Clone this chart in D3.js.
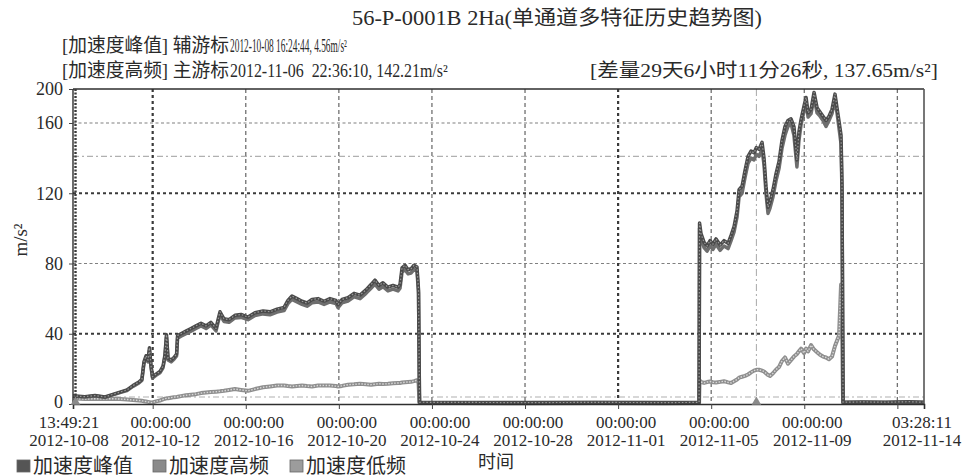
<!DOCTYPE html>
<html>
<head>
<meta charset="utf-8">
<script src="https://cdn.jsdelivr.net/npm/d3@7"></script>
<style>
  html, body { margin: 0; padding: 0; background: #ffffff; }
  svg { display: block; }
  text { font-family: "Liberation Serif", "Noto Sans CJK SC", serif; fill: #2a2a2a; white-space: pre; }
</style>
</head>
<body>
<svg id="chart" width="967" height="476"></svg>
<script>
// ---- sample times (UTC strings) shared by the three series ----
const times = [
  "2012-10-08 13:49:21","2012-10-08 16:24:44","2012-10-09 02:00","2012-10-09 12:30","2012-10-09 22:50",
  "2012-10-10 07:00","2012-10-10 14:20","2012-10-10 21:30","2012-10-11 03:40","2012-10-11 09:50",
  "2012-10-11 12:50","2012-10-11 15:00","2012-10-11 17:10","2012-10-11 19:10","2012-10-11 20:40",
  "2012-10-11 22:15","2012-10-11 23:50","2012-10-12 03:25","2012-10-12 07:30","2012-10-12 10:40",
  "2012-10-12 12:40","2012-10-12 14:15","2012-10-12 15:50","2012-10-12 19:00","2012-10-12 22:00",
  "2012-10-13 00:40","2012-10-13 01:40","2012-10-13 05:10","2012-10-13 10:20","2012-10-13 15:30",
  "2012-10-13 20:40","2012-10-14 01:50","2012-10-14 07:00","2012-10-14 12:00","2012-10-14 17:20",
  "2012-10-14 19:25","2012-10-14 21:25","2012-10-15 01:30","2012-10-15 06:45","2012-10-15 12:50",
  "2012-10-15 19:05","2012-10-16 02:20","2012-10-16 09:30","2012-10-16 17:50","2012-10-17 01:00",
  "2012-10-17 08:15","2012-10-17 15:30","2012-10-17 19:30","2012-10-17 23:40","2012-10-18 04:50",
  "2012-10-18 10:00","2012-10-18 15:10","2012-10-18 20:20","2012-10-19 02:30","2012-10-19 08:45",
  "2012-10-19 14:50","2012-10-19 21:00","2012-10-19 23:10","2012-10-20 03:15","2012-10-20 09:25",
  "2012-10-20 15:40","2012-10-20 21:50","2012-10-21 04:00","2012-10-21 09:10","2012-10-21 13:15",
  "2012-10-21 17:25","2012-10-21 21:30","2012-10-22 02:40","2012-10-22 07:50","2012-10-22 13:00",
  "2012-10-22 15:05","2012-10-22 17:10","2012-10-22 20:15","2012-10-22 23:20","2012-10-23 02:25",
  "2012-10-23 05:30","2012-10-23 08:35","2012-10-23 10:10","2012-10-23 11:10","2012-10-25 00:00",
  "2012-10-28 00:00","2012-10-31 00:00","2012-11-03 00:00","2012-11-04 11:30","2012-11-04 12:00",
  "2012-11-04 13:30","2012-11-04 16:40","2012-11-04 19:45","2012-11-04 22:50","2012-11-05 01:50",
  "2012-11-05 05:00","2012-11-05 09:10","2012-11-05 13:15","2012-11-05 17:25","2012-11-05 20:30",
  "2012-11-05 23:35","2012-11-06 02:40","2012-11-06 04:45","2012-11-06 07:50","2012-11-06 10:55",
  "2012-11-06 14:00","2012-11-06 17:05","2012-11-06 20:10","2012-11-06 22:36:10","2012-11-07 01:20",
  "2012-11-07 04:25","2012-11-07 06:30","2012-11-07 08:30","2012-11-07 10:35","2012-11-07 12:40",
  "2012-11-07 15:45","2012-11-07 18:50","2012-11-07 21:55","2012-11-08 01:00","2012-11-08 04:05",
  "2012-11-08 07:10","2012-11-08 10:15","2012-11-08 13:20","2012-11-08 16:25","2012-11-08 18:30",
  "2012-11-08 20:40","2012-11-08 23:45","2012-11-09 01:50","2012-11-09 03:55","2012-11-09 07:00",
  "2012-11-09 10:05","2012-11-09 13:10","2012-11-09 16:15","2012-11-09 19:20","2012-11-09 22:25",
  "2012-11-10 01:30","2012-11-10 04:35","2012-11-10 07:40","2012-11-10 09:45","2012-11-10 11:50",
  "2012-11-10 13:55","2012-11-10 14:55","2012-11-10 16:00","2012-11-11 12:00","2012-11-12 12:00",
  "2012-11-13 12:00","2012-11-14 03:28:11"
];

// 加速度峰值 (m/s²)
const peak = [
  4.6,4.56,4.2,4.8,4.0, 5.5,6.8,8.0,10.5,12.5, 14.0,24.0,27.5,25.0,32.0, 22.0,15.5,17.0,18.5,21.5,
  28.0,39.5,26.0,25.0,26.5, 28.5,39.0,40.0,41.5,43.0, 44.5,46.0,44.5,46.5,43.0, 48.0,52.5,48.5,48.0,50.5,
  51.0,49.5,52.0,53.0,52.5, 54.0,55.0,59.0,61.5,60.0, 58.5,57.5,59.5,60.0,58.5, 60.0,59.0,56.5,59.5,60.5,
  63.0,62.0,65.0,68.0,70.5, 67.5,69.0,66.5,67.5,66.5, 68.0,77.5,79.0,76.5,77.0, 79.0,78.0,65.0,1.0,0.9,
  0.8,0.9,0.8,0.9,103, 97,92,90,93,91, 94,90.5,93,91.5,96, 101,110,122,124,133,
  141,144,143,146,145, 149,140,124,112,115, 122,131,138,150,158, 163,165,158,139,155,
  164,180,190,172,176, 196,178,173,168,163, 168,176,194,178,162, 153,124,1.0,1.2,1.0,
  1.3,1.0
];

// 加速度高频 (m/s²)
const high = [
  4.4,4.3,4.0,4.5,3.8, 5.2,6.5,7.6,10.0,12.0, 13.4,23.0,26.5,24.0,30.5, 21.0,14.8,16.3,17.8,20.6,
  27.0,38.0,25.0,24.0,25.5, 27.4,37.5,38.6,40.0,41.5, 43.0,44.4,43.0,45.0,41.6, 46.5,50.8,47.0,46.5,49.0,
  49.3,48.0,50.4,51.3,50.8, 52.3,53.2,57.2,59.6,58.1, 56.7,55.7,57.6,58.1,56.7, 58.1,57.2,54.8,57.6,58.6,
  61.0,60.0,63.0,65.9,68.3, 65.4,66.8,64.4,65.4,64.4, 65.9,75.1,76.5,74.1,74.6, 76.5,75.6,63.0,0.8,0.7,
  0.7,0.8,0.7,0.7,100, 94,89,87,90,88, 91,87.5,90,88.5,93, 98,106.5,118,120,129,
  137,140,139,142.21,141, 145,136,120,108.5,111.5, 118,127,134,145.5,153, 158,160,153,135,150,
  159,174,184,167,171, 190,172,168,163,158, 163,171,188,172,157, 148,120,0.8,1.0,0.8,
  1.1,0.8
];

// 加速度低频 (m/s²)
const low = [
  3.2,3.1,2.8,3.0,2.9, 3.0,2.8,2.6,2.3,2.0, 1.8,1.6,1.4,1.2,1.0, 0.8,0.9,1.5,2.0,2.6,
  3.0,3.2,3.3,3.6,3.9, 4.0,4.1,4.5,5.0,5.3, 5.6,6.2,6.5,6.8,7.0, 7.1,7.2,7.5,8.0,8.5,
  8.0,7.5,8.5,9.5,10.0, 10.5,10.5,10.2,10.0,10.3, 10.5,10.2,10.0,10.5,10.6, 10.5,10.2,10.0,10.3,11.0,
  11.2,11.5,11.2,11.0,11.3, 11.5,11.4,11.5,11.8,12.0, 12.0,12.2,12.4,12.5,12.6, 13.0,13.5,12.0,0.5,0.5,
  0.4,0.5,0.4,0.5,13.5, 12.5,12.0,12.5,12.8,12.4, 12.2,12.6,13.0,12.3,12.0, 13.0,14.0,15.0,15.5,16.0,
  16.8,18.0,19.0,19.5,19.5, 19.0,18.5,17.5,16.5,16.0, 17.5,19.5,21.0,24.5,26.5, 23.0,25.0,27.0,28.5,30.0,
  31.5,29.0,31.5,30.0,33.5, 31.0,29.5,28.0,27.0,26.5, 25.5,27.0,33.0,36.0,39.0, 68.0,45.0,0.6,0.6,0.5,
  0.6,0.5
];

const seriesNames = ["加速度峰值", "加速度高频", "加速度低频"];

// axis ticks
const xTicks = [
  "2012-10-08 13:49:21","2012-10-12 00:00:00","2012-10-16 00:00:00","2012-10-20 00:00:00",
  "2012-10-24 00:00:00","2012-10-28 00:00:00","2012-11-01 00:00:00","2012-11-05 00:00:00",
  "2012-11-09 00:00:00","2012-11-14 03:28:11"
];
const xGrid = [
  "2012-10-12 00:00:00","2012-10-16 00:00:00","2012-10-20 00:00:00","2012-10-24 00:00:00",
  "2012-10-28 00:00:00","2012-11-01 00:00:00","2012-11-05 00:00:00","2012-11-09 00:00:00",
  "2012-11-13 00:00:00"
];
const yTicks = [0, 40, 80, 120, 160, 200];
const yGrid = [40, 80, 120, 160];
const refLevels = [4, 141];

// cursors
const auxCursor = "2012-10-08 16:24:44";
const mainCursor = "2012-11-06 22:36:10";

const titleParts = ["56-P-0001B 2Ha(", "单通道多特征历史趋势图)"];
const auxLine = ["[加速度峰值] 辅游标", "2012-10-08 16:24:44, 4.56m/s²"];
const mainLine = ["[加速度高频] 主游标", "2012-11-06  22:36:10, 142.21m/s²"];
const diffText = "[差量29天6小时11分26秒, 137.65m/s²]";
const xTitle = "时间";
const yTitle = "m/s²";

// ---- drawing ----
const parseFull = d3.utcParse("%Y-%m-%d %H:%M:%S");
const parseShort = d3.utcParse("%Y-%m-%d %H:%M");
const toDate = s => parseFull(s) || parseShort(s);

const svg = d3.select("#chart");
const P = { left: 73, right: 924, top: 89, bottom: 404 };

const x = d3.scaleUtc()
  .domain([toDate(xTicks[0]), toDate(xTicks[xTicks.length - 1])])
  .range([P.left, P.right]);
const y = d3.scaleLinear()
  .domain([0, 160, 200])
  .range([P.bottom, 123, P.top]);

const rows = times.map((t, i) => ({ t: toDate(t), peak: peak[i], high: high[i], low: low[i] }));

// grid
const heavyY = d => d === 40 || d === 120;
const heavyX = i => i === 0 || i === 5;
const grid = svg.append("g");
grid.selectAll("line.h").data(yGrid).join("line")
  .attr("x1", P.left).attr("x2", P.right)
  .attr("y1", d => y(d)).attr("y2", d => y(d))
  .attr("stroke", d => heavyY(d) ? "#3a3a3a" : "#808080")
  .attr("stroke-width", d => heavyY(d) ? 2.2 : 1.2)
  .attr("stroke-dasharray", d => heavyY(d) ? "3,3" : "3,2.5");
grid.selectAll("line.r").data(refLevels).join("line")
  .attr("x1", P.left).attr("x2", P.right)
  .attr("y1", d => y(d)).attr("y2", d => y(d))
  .attr("stroke", "#b0b0b0").attr("stroke-width", 1.2)
  .attr("stroke-dasharray", "6,3,2,3");
grid.selectAll("line.v").data(xGrid).join("line")
  .attr("x1", d => x(toDate(d))).attr("x2", d => x(toDate(d)))
  .attr("y1", P.top).attr("y2", P.bottom)
  .attr("stroke", (d, i) => heavyX(i) ? "#3a3a3a" : "#707070")
  .attr("stroke-width", (d, i) => heavyX(i) ? 2.2 : 1.3)
  .attr("stroke-dasharray", (d, i) => heavyX(i) ? "3,3" : "4,3");

// main cursor line
svg.append("line")
  .attr("x1", x(toDate(mainCursor))).attr("x2", x(toDate(mainCursor)))
  .attr("y1", P.top).attr("y2", P.bottom)
  .attr("stroke", "#a8a8a8").attr("stroke-width", 1)
  .attr("stroke-dasharray", "7,3,2,3");

// series lines
const lineOf = key => d3.line().x(d => x(d.t)).y(d => y(d[key]));
const gLines = svg.append("g").attr("stroke-linejoin", "round").attr("fill", "none");
gLines.append("path").datum(rows).attr("d", lineOf("low"))
  .attr("stroke", "#8e8e8e").attr("stroke-width", 4);
gLines.append("path").datum(rows).attr("d", lineOf("low"))
  .attr("stroke", "#d8d8d8").attr("stroke-width", 1.4).attr("stroke-dasharray", "1.5,1.5");
gLines.append("path").datum(rows).attr("d", lineOf("high"))
  .attr("stroke", "#6e6e6e").attr("stroke-width", 3.5);
gLines.append("path").datum(rows).attr("d", lineOf("peak"))
  .attr("stroke", "#4a4a4a").attr("stroke-width", 3.5);
gLines.append("path").datum(rows).attr("d", lineOf("peak"))
  .attr("stroke", "#9a9a9a").attr("stroke-width", 1.2).attr("stroke-dasharray", "1.5,2");

// frame
const frame = svg.append("g").attr("fill", "none");
frame.append("line").attr("x1", P.left).attr("x2", P.right).attr("y1", P.top).attr("y2", P.top)
  .attr("stroke", "#2e2e2e").attr("stroke-width", 1.6);
frame.append("line").attr("x1", P.right).attr("x2", P.right).attr("y1", P.top).attr("y2", P.bottom)
  .attr("stroke", "#555").attr("stroke-width", 1.6);
frame.append("line").attr("x1", P.left).attr("x2", P.left).attr("y1", P.top).attr("y2", P.bottom)
  .attr("stroke", "#2e2e2e").attr("stroke-width", 1.4);
frame.append("line").attr("x1", x(toDate(auxCursor))).attr("x2", x(toDate(auxCursor)))
  .attr("y1", P.top).attr("y2", P.bottom)
  .attr("stroke", "#3a3a3a").attr("stroke-width", 2.4).attr("stroke-dasharray", "2,1.5");

// axes
const xAxis = d3.axisBottom(x)
  .tickValues(xGrid.map(toDate))
  .tickSize(5).tickFormat("");
const gx = svg.append("g").attr("transform", `translate(0,${P.bottom})`).call(xAxis);
gx.select(".domain").attr("stroke", "#2e2e2e").attr("stroke-width", 1.6);
gx.selectAll(".tick line").attr("stroke", "#444");

const yAxis = d3.axisLeft(y).tickValues(yTicks).tickSize(4).tickPadding(6);
const gy = svg.append("g").attr("transform", `translate(${P.left},0)`).call(yAxis);
gy.select(".domain").remove();
gy.selectAll(".tick line").attr("stroke", "#444");
gy.selectAll(".tick text")
  .attr("font-family", "'Liberation Serif', serif")
  .attr("font-size", 18).attr("fill", "#2a2a2a")
  .attr("dy", d => d === 0 ? "0.2em" : "0.32em");

// x tick labels (time on first line, date on second)
const xl = svg.append("g").attr("font-size", 17).attr("text-anchor", "middle");
xTicks.forEach((s, i) => {
  const [day, clock] = s.split(" ");
  const shift = i === 0 ? -4 : (i === xTicks.length - 1 ? -2 : 8);
  const px = x(toDate(s)) + shift;
  const t = xl.append("text").attr("x", px).attr("y", 428);
  t.append("tspan").attr("x", px).text(clock);
  t.append("tspan").attr("x", px).attr("dy", 18).text(day);
});

// cursor markers on the time axis
const tri = d3.symbol().type(d3.symbolTriangle).size(40);
[auxCursor, mainCursor].forEach(c => {
  svg.append("path").attr("d", tri())
    .attr("transform", `translate(${x(toDate(c))},${P.bottom - 2})`)
    .attr("fill", "#8a8a8a");
});

// axis titles
svg.append("text").attr("x", 496).attr("y", 468).attr("text-anchor", "middle")
  .attr("font-size", 18).text(xTitle);
svg.append("text").attr("transform", "translate(27,240) rotate(-90)")
  .attr("text-anchor", "middle").attr("font-size", 19).text(yTitle);

// header text: each piece is squeezed horizontally to its slot width
function fitted(str, x0, yBase, width, size) {
  const t = svg.append("text").attr("x", 0).attr("y", 0).attr("font-size", size).text(str);
  const natural = t.node().getComputedTextLength();
  t.attr("transform", `translate(${x0},${yBase}) scale(${width / natural},1)`);
  return t;
}
fitted(titleParts[0], 352, 25, 160, 20);
fitted(titleParts[1], 512, 25, 250, 20);
fitted(auxLine[0], 62, 52, 167, 19);
fitted(auxLine[1], 230, 52, 117, 18);
fitted(mainLine[0], 62, 77, 167, 19);
fitted(mainLine[1], 230, 77, 218, 18);
fitted(diffText, 590, 77, 348, 19);

// legend
const legendX = [17, 153, 290];
const legendFill = ["#555555", "#8a8a8a", "#9c9c9c"];
const lg = svg.append("g");
seriesNames.forEach((n, i) => {
  lg.append("rect").attr("x", legendX[i]).attr("y", 460).attr("width", 13).attr("height", 12)
    .attr("fill", legendFill[i]).attr("stroke", "#666").attr("stroke-width", 0.8);
  lg.append("text").attr("x", legendX[i] + 16).attr("y", 473).attr("font-size", 20).text(n);
});
</script>
</body>
</html>
